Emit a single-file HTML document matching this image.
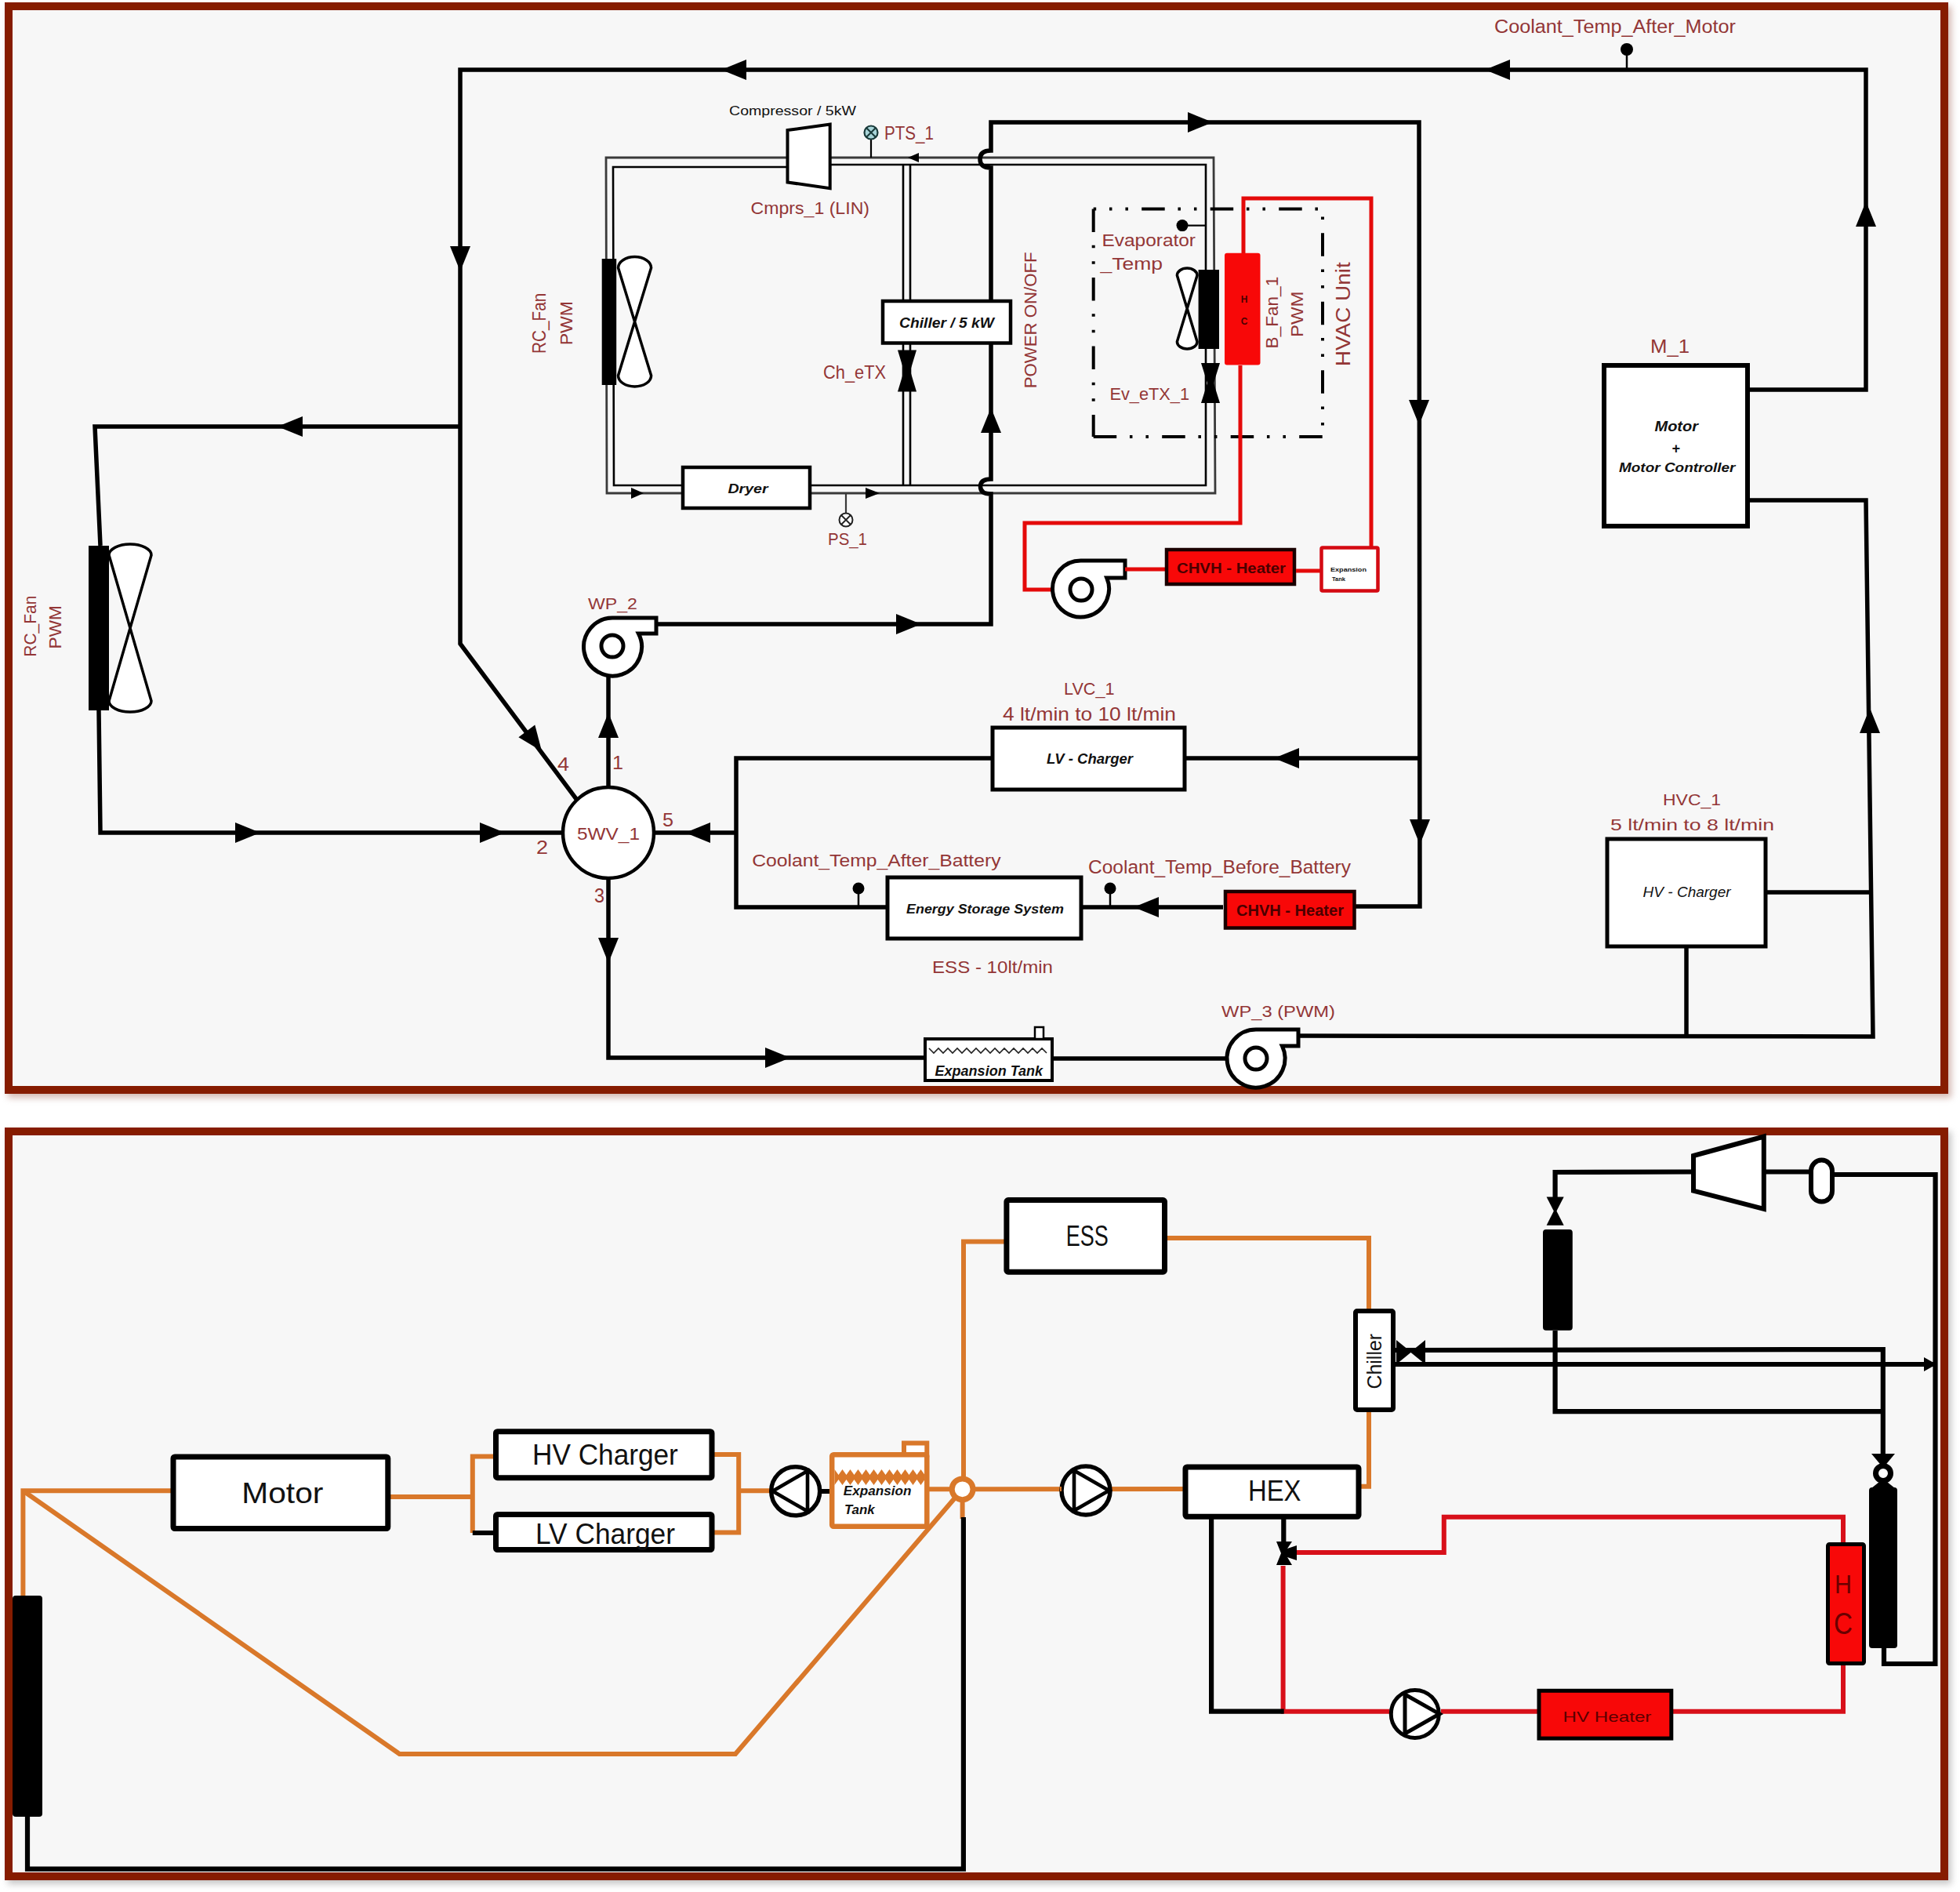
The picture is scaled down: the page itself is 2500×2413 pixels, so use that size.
<!DOCTYPE html>
<html><head><meta charset="utf-8"><style>
html,body{margin:0;padding:0;background:#fff;}
body{width:2500px;height:2413px;overflow:hidden;}
svg{display:block;}
</style></head><body>
<svg width="2500" height="2413" viewBox="0 0 2500 2413">
<defs><filter id="sh" x="-2%" y="-2%" width="104%" height="104%"><feGaussianBlur stdDeviation="4"/></filter></defs>
<rect x="10" y="8" width="2479" height="1392" fill="#B88A80" opacity="0.6" filter="url(#sh)"/>
<rect x="10" y="1443" width="2479" height="960" fill="#999" opacity="0.55" filter="url(#sh)"/>
<rect x="11" y="8" width="2469" height="1382" fill="#F7F7F7" stroke="#861C00" stroke-width="10"/>
<rect x="11" y="1443" width="2469" height="950" fill="#F7F7F7" stroke="#861C00" stroke-width="10"/>
<path d="M1004 201 L773 201 L774 629 L871 629" fill="none" stroke="#3a3a3a" stroke-width="2.8" stroke-linecap="butt" stroke-linejoin="miter" />
<path d="M1004 213 L782 213 L783 619 L871 619" fill="none" stroke="#000" stroke-width="2.6" stroke-linecap="butt" stroke-linejoin="miter" />
<path d="M1059 201 L1548 201 L1550 629 L1033 629" fill="none" stroke="#3a3a3a" stroke-width="2.8" stroke-linecap="butt" stroke-linejoin="miter" />
<path d="M1059 210 L1538 210 L1538 619 L1033 619" fill="none" stroke="#000" stroke-width="2.6" stroke-linecap="butt" stroke-linejoin="miter" />
<path d="M1152 210 L1152 619" fill="none" stroke="#000" stroke-width="2.6" stroke-linecap="butt" stroke-linejoin="miter" />
<path d="M1161 210 L1161 619" fill="none" stroke="#000" stroke-width="2.6" stroke-linecap="butt" stroke-linejoin="miter" />
<polygon points="821.0,629.0 805.0,636.0 805.0,622.0" fill="#000"/>
<polygon points="1158.0,201.0 1172.0,195.0 1172.0,207.0" fill="#000"/>
<polygon points="1122.0,629.0 1104.0,636.0 1104.0,622.0" fill="#000"/>
<polygon points="1004.5,166 1058.7,158.6 1058.7,240.3 1004.5,232.4" fill="#fff" stroke="#000" stroke-width="4" stroke-linejoin="miter"/>
<path d="M1111 178 L1111 201" fill="none" stroke="#000" stroke-width="2.2" stroke-linecap="butt" stroke-linejoin="miter" />
<circle cx="1111" cy="169" r="8.5" fill="#A8D4D8" stroke="#1a3a3a" stroke-width="2.2"/>
<path d="M1105 163 L1117 175 M1117 163 L1105 175" stroke="#1a3a3a" stroke-width="2"/>
<path d="M1079 629 L1079 654" fill="none" stroke="#3a3a3a" stroke-width="2.2" stroke-linecap="butt" stroke-linejoin="miter" />
<circle cx="1079" cy="663" r="8.5" fill="#fff" stroke="#222" stroke-width="2"/>
<path d="M1073 657 L1085 669 M1085 657 L1073 669" stroke="#222" stroke-width="1.8"/>
<rect x="767.7" y="330" width="18.5" height="161" fill="#000" rx="0"/>
<path d="M788.5 341.6 A21.05000000000001 14 0 0 1 830.6 341.6 L788.5 479 A21.05000000000001 14 0 0 0 830.6 479 Z" fill="#fff" stroke="#000" stroke-width="3.5" stroke-linejoin="round"/>
<polygon points="1145,446.4 1169,446.4 1161,473 1169,499.5 1145,499.5 1153,473" fill="#000"/>
<rect x="871" y="596" width="162" height="52" fill="#fff" stroke="#000" stroke-width="4.5" rx="0"/>
<path d="M1394.7 266.5 L1394.7 557" fill="none" stroke="#000" stroke-width="4" stroke-dasharray="29.5 16.75 3.5 17 3.5 17.25" stroke-dashoffset="0"/>
<path d="M1394.7 266.5 L1687 266.5" fill="none" stroke="#000" stroke-width="4" stroke-dasharray="29.5 16.75 3.5 17 3.5 17.25" stroke-dashoffset="26"/>
<path d="M1394.7 557 L1687 557" fill="none" stroke="#000" stroke-width="4" stroke-dasharray="29.5 16.75 3.5 17 3.5 17.25" stroke-dashoffset="0"/>
<path d="M1687 266.5 L1687 557" fill="none" stroke="#000" stroke-width="4" stroke-dasharray="29.5 16.75 3.5 17 3.5 17.25" stroke-dashoffset="56.7"/>
<path d="M1508 287.6 L1538 287.6" fill="none" stroke="#000" stroke-width="2.2" stroke-linecap="butt" stroke-linejoin="miter" />
<circle cx="1508" cy="287.6" r="7.5" fill="#000" stroke="#000" stroke-width="0"/>
<path d="M1501.4 351.27 A12.799999999999955 9.27 0 0 1 1527 351.27 L1501.4 435.73 A12.799999999999955 9.27 0 0 0 1527 435.73 Z" fill="#fff" stroke="#000" stroke-width="3.5" stroke-linejoin="round"/>
<rect x="1528.6" y="344" width="26.40000000000009" height="101" fill="#000" rx="0"/>
<polygon points="1532,463 1556,463 1548,488.5 1556,514 1532,514 1540,488.5" fill="#000"/>
<path d="M1586 323 L1586 253 L1749 253 L1749 697" fill="none" stroke="#E40A0A" stroke-width="5" stroke-linecap="butt" stroke-linejoin="miter" />
<path d="M1582 466 L1582 667 L1307 667 L1307 752 L1342 752" fill="none" stroke="#E40A0A" stroke-width="5" stroke-linecap="butt" stroke-linejoin="miter" />
<rect x="1562" y="322.7" width="45.5" height="142.8" rx="3" fill="#F80808"/>
<path d="M1379 715 L1435 715 L1435 737 L1411.7 737 A36 36 0 1 1 1379 715 Z" fill="#fff" stroke="#000" stroke-width="5" stroke-linejoin="miter"/>
<circle cx="1379" cy="752" r="14" fill="#fff" stroke="#000" stroke-width="5"/>
<path d="M1435 726 L1486 726" fill="none" stroke="#E40A0A" stroke-width="5" stroke-linecap="butt" stroke-linejoin="miter" />
<rect x="1488" y="701" width="163" height="44" fill="#F80808" stroke="#1a0000" stroke-width="4.5" rx="0"/>
<path d="M1653 728 L1684 728" fill="none" stroke="#E40A0A" stroke-width="5" stroke-linecap="butt" stroke-linejoin="miter" />
<rect x="1685.5" y="698.5" width="72.0" height="55.0" fill="#fff" stroke="#D40A12" stroke-width="4.5" rx="1.5"/>
<path d="M587 544 L587 89 L2380 89 L2380 497 L2229 497" fill="none" stroke="#000" stroke-width="5.5" stroke-linecap="butt" stroke-linejoin="miter" />
<polygon points="920.0,89.0 952.0,76.0 952.0,102.0" fill="#000"/>
<polygon points="1894.0,89.0 1926.0,76.0 1926.0,102.0" fill="#000"/>
<polygon points="587.0,346.0 574.0,314.0 600.0,314.0" fill="#000"/>
<polygon points="2380.0,257.0 2393.0,289.0 2367.0,289.0" fill="#000"/>
<path d="M587 544 L121 544 L128 696" fill="none" stroke="#000" stroke-width="5.5" stroke-linecap="butt" stroke-linejoin="miter" />
<polygon points="354.0,544.0 386.0,531.0 386.0,557.0" fill="#000"/>
<rect x="113" y="696" width="26" height="210" fill="#000" rx="0"/>
<path d="M139 708 A27.0 14 0 0 1 193 708 L139 894 A27.0 14 0 0 0 193 894 Z" fill="#fff" stroke="#000" stroke-width="3.5" stroke-linejoin="round"/>
<path d="M126 906 L128 1062 L718 1062" fill="none" stroke="#000" stroke-width="5.5" stroke-linecap="butt" stroke-linejoin="miter" />
<polygon points="332.0,1062.0 300.0,1075.0 300.0,1049.0" fill="#000"/>
<polygon points="644.0,1062.0 612.0,1075.0 612.0,1049.0" fill="#000"/>
<path d="M587 544 L587 821 L735 1019" fill="none" stroke="#000" stroke-width="5.5" stroke-linecap="butt" stroke-linejoin="miter" />
<polygon points="691.0,958.0 661.4,940.2 682.3,924.6" fill="#000"/>
<circle cx="776" cy="1062" r="58" fill="#fff" stroke="#000" stroke-width="4.5"/>
<path d="M776 1004 L776 860" fill="none" stroke="#000" stroke-width="5.5" stroke-linecap="butt" stroke-linejoin="miter" />
<polygon points="776.0,909.0 789.0,941.0 763.0,941.0" fill="#000"/>
<path d="M781 788 L837 788 L837 808 L814.4 808 A37 37 0 1 1 781 788 Z" fill="#fff" stroke="#000" stroke-width="5" stroke-linejoin="miter"/>
<circle cx="781" cy="824" r="14" fill="#fff" stroke="#000" stroke-width="5"/>
<path d="M837 796 L1264 796 L1264 635" fill="none" stroke="#000" stroke-width="5.5" stroke-linecap="butt" stroke-linejoin="miter" />
<polygon points="1175.0,796.0 1143.0,809.0 1143.0,783.0" fill="#000"/>
<polygon points="1264.0,520.0 1277.0,552.0 1251.0,552.0" fill="#000"/>
<path d="M1264 635 L1264 630 Q1250.5 630 1250.5 620.5 Q1250.5 611 1264 611 L1264 219 L1264 214 Q1250 214 1250 203 Q1250 192 1264 192 L1264 156 L1810 156 L1811 1156 L1729 1156" fill="none" stroke="#000" stroke-width="5.5"/>
<polygon points="1547.0,156.0 1515.0,169.0 1515.0,143.0" fill="#000"/>
<polygon points="1810.0,542.0 1797.0,510.0 1823.0,510.0" fill="#000"/>
<polygon points="1811.0,1077.0 1798.0,1045.0 1824.0,1045.0" fill="#000"/>
<path d="M1810 967 L1511 967" fill="none" stroke="#000" stroke-width="5.5" stroke-linecap="butt" stroke-linejoin="miter" />
<polygon points="1625.0,967.0 1657.0,954.0 1657.0,980.0" fill="#000"/>
<rect x="1266" y="928" width="245" height="79" fill="#fff" stroke="#000" stroke-width="5" rx="0"/>
<path d="M1266 967 L939 967 L939 1157 L1132 1157" fill="none" stroke="#000" stroke-width="5.5" stroke-linecap="butt" stroke-linejoin="miter" />
<path d="M939 1062 L835 1062" fill="none" stroke="#000" stroke-width="5.5" stroke-linecap="butt" stroke-linejoin="miter" />
<polygon points="874.0,1062.0 906.0,1049.0 906.0,1075.0" fill="#000"/>
<rect x="1132" y="1119" width="247" height="78" fill="#fff" stroke="#000" stroke-width="5" rx="0"/>
<path d="M1379 1157 L1560 1157" fill="none" stroke="#000" stroke-width="5.5" stroke-linecap="butt" stroke-linejoin="miter" />
<polygon points="1446.0,1157.0 1478.0,1144.0 1478.0,1170.0" fill="#000"/>
<path d="M1095 1133 L1095 1157" fill="none" stroke="#000" stroke-width="2.5" stroke-linecap="butt" stroke-linejoin="miter" />
<circle cx="1095" cy="1133" r="7.5" fill="#000" stroke="#000" stroke-width="0"/>
<path d="M1416 1133 L1416 1157" fill="none" stroke="#000" stroke-width="2.5" stroke-linecap="butt" stroke-linejoin="miter" />
<circle cx="1416" cy="1133" r="7.5" fill="#000" stroke="#000" stroke-width="0"/>
<rect x="1563" y="1137" width="164.5" height="46.5" fill="#F80808" stroke="#1a0000" stroke-width="4.5" rx="0"/>
<path d="M776 1121 L776 1349 L1180 1349" fill="none" stroke="#000" stroke-width="5.5" stroke-linecap="butt" stroke-linejoin="miter" />
<polygon points="776.0,1228.0 763.0,1196.0 789.0,1196.0" fill="#000"/>
<polygon points="1008.0,1349.0 976.0,1362.0 976.0,1336.0" fill="#000"/>
<rect x="1180" y="1325" width="162" height="53" fill="#fff" stroke="#000" stroke-width="4" rx="0"/>
<rect x="1320" y="1310" width="11" height="15" fill="#fff" stroke="#000" stroke-width="2.5" rx="0"/>
<path d="M1185 1337 L1191 1343 L1197 1337 L1203 1343 L1209 1337 L1215 1343 L1221 1337 L1227 1343 L1233 1337 L1239 1343 L1245 1337 L1251 1343 L1257 1337 L1263 1343 L1269 1337 L1275 1343 L1281 1337 L1287 1343 L1293 1337 L1299 1343 L1305 1337 L1311 1343 L1317 1337 L1323 1343 L1329 1337 L1335 1343" fill="none" stroke="#222" stroke-width="1.6" stroke-linecap="butt" stroke-linejoin="miter" />
<path d="M1342 1350 L1565 1350" fill="none" stroke="#000" stroke-width="5.5" stroke-linecap="butt" stroke-linejoin="miter" />
<path d="M1602 1313 L1656 1313 L1656 1334 L1635.4 1334 A37 37 0 1 1 1602 1313 Z" fill="#fff" stroke="#000" stroke-width="5" stroke-linejoin="miter"/>
<circle cx="1602" cy="1350" r="14" fill="#fff" stroke="#000" stroke-width="5"/>
<path d="M1656 1321 L2389 1322 L2380 638 L2229 638" fill="none" stroke="#000" stroke-width="5.5" stroke-linecap="butt" stroke-linejoin="miter" />
<polygon points="2385.0,903.0 2398.0,935.0 2372.0,935.0" fill="#000"/>
<rect x="2050" y="1070" width="202" height="137" fill="#fff" stroke="#000" stroke-width="5" rx="0"/>
<path d="M2252 1138 L2385 1138" fill="none" stroke="#000" stroke-width="5.5" stroke-linecap="butt" stroke-linejoin="miter" />
<path d="M2151 1207 L2151 1322" fill="none" stroke="#000" stroke-width="5.5" stroke-linecap="butt" stroke-linejoin="miter" />
<rect x="2046" y="466" width="183" height="205" fill="#fff" stroke="#000" stroke-width="6" rx="0"/>
<path d="M2075 63 L2075 89" fill="none" stroke="#000" stroke-width="2.5" stroke-linecap="butt" stroke-linejoin="miter" />
<circle cx="2075" cy="63" r="8" fill="#000" stroke="#000" stroke-width="0"/>
<rect x="1126" y="384" width="163" height="53.5" fill="#fff" stroke="#000" stroke-width="4.5" rx="0"/>
<text x="930.0" y="146.6" font-family="'Liberation Sans', sans-serif" font-size="15.99" fill="#111" text-anchor="start" font-weight="normal" font-style="normal" textLength="162.0" lengthAdjust="spacingAndGlyphs" >Compressor / 5kW</text>
<text x="1128.0" y="178" font-family="'Liberation Sans', sans-serif" font-size="23.26" fill="#933636" text-anchor="start" font-weight="normal" font-style="normal" textLength="63.0" lengthAdjust="spacingAndGlyphs" >PTS_1</text>
<text x="957.6" y="273.4" font-family="'Liberation Sans', sans-serif" font-size="21.37" fill="#933636" text-anchor="start" font-weight="normal" font-style="normal" textLength="151.4" lengthAdjust="spacingAndGlyphs" >Cmprs_1 (LIN)</text>
<text x="696.5" y="450.9" font-family="'Liberation Sans', sans-serif" font-size="23.11" fill="#933636" text-anchor="start" font-weight="normal" font-style="normal" textLength="77.1" lengthAdjust="spacingAndGlyphs" transform="rotate(-90 696.5 450.9)" >RC_Fan</text>
<text x="730" y="440.3" font-family="'Liberation Sans', sans-serif" font-size="21.8" fill="#933636" text-anchor="start" font-weight="normal" font-style="normal" textLength="56.3" lengthAdjust="spacingAndGlyphs" transform="rotate(-90 730 440.3)" >PWM</text>
<text x="1147.0" y="418" font-family="'Liberation Sans', sans-serif" font-size="17.44" fill="#111" text-anchor="start" font-weight="bold" font-style="italic" textLength="121.0" lengthAdjust="spacingAndGlyphs" >Chiller / 5 kW</text>
<text x="1050.0" y="482.9" font-family="'Liberation Sans', sans-serif" font-size="23.11" fill="#933636" text-anchor="start" font-weight="normal" font-style="normal" textLength="80.0" lengthAdjust="spacingAndGlyphs" >Ch_eTX</text>
<text x="928.5" y="628.5" font-family="'Liberation Sans', sans-serif" font-size="16.72" fill="#111" text-anchor="start" font-weight="bold" font-style="italic" textLength="51.1" lengthAdjust="spacingAndGlyphs" >Dryer</text>
<text x="1056.0" y="695.4" font-family="'Liberation Sans', sans-serif" font-size="21.22" fill="#933636" text-anchor="start" font-weight="normal" font-style="normal" textLength="50.0" lengthAdjust="spacingAndGlyphs" >PS_1</text>
<text x="750.0" y="777" font-family="'Liberation Sans', sans-serif" font-size="20.93" fill="#933636" text-anchor="start" font-weight="normal" font-style="normal" textLength="63.0" lengthAdjust="spacingAndGlyphs" >WP_2</text>
<text x="1322" y="495.2" font-family="'Liberation Sans', sans-serif" font-size="22.38" fill="#933636" text-anchor="start" font-weight="normal" font-style="normal" textLength="173.7" lengthAdjust="spacingAndGlyphs" transform="rotate(-90 1322 495.2)" >POWER ON/OFF</text>
<text x="1405.5" y="313.5" font-family="'Liberation Sans', sans-serif" font-size="22.53" fill="#933636" text-anchor="start" font-weight="normal" font-style="normal" textLength="119.5" lengthAdjust="spacingAndGlyphs" >Evaporator</text>
<text x="1403.5" y="344" font-family="'Liberation Sans', sans-serif" font-size="22.09" fill="#933636" text-anchor="start" font-weight="normal" font-style="normal" textLength="79.5" lengthAdjust="spacingAndGlyphs" >_Temp</text>
<text x="1629.6" y="444.4" font-family="'Liberation Sans', sans-serif" font-size="22.09" fill="#933636" text-anchor="start" font-weight="normal" font-style="normal" textLength="91.6" lengthAdjust="spacingAndGlyphs" transform="rotate(-90 1629.6 444.4)" >B_Fan_1</text>
<text x="1661.7" y="430.0" font-family="'Liberation Sans', sans-serif" font-size="21.37" fill="#933636" text-anchor="start" font-weight="normal" font-style="normal" textLength="58.6" lengthAdjust="spacingAndGlyphs" transform="rotate(-90 1661.7 430.0)" >PWM</text>
<text x="1722" y="467.2" font-family="'Liberation Sans', sans-serif" font-size="26.16" fill="#933636" text-anchor="start" font-weight="normal" font-style="normal" textLength="133.0" lengthAdjust="spacingAndGlyphs" transform="rotate(-90 1722 467.2)" >HVAC Unit</text>
<text x="1415.4" y="510" font-family="'Liberation Sans', sans-serif" font-size="22.82" fill="#933636" text-anchor="start" font-weight="normal" font-style="normal" textLength="101.6" lengthAdjust="spacingAndGlyphs" >Ev_eTX_1</text>
<text x="1501.0" y="730.7" font-family="'Liberation Sans', sans-serif" font-size="18.46" fill="#4a0000" text-anchor="start" font-weight="bold" font-style="normal" textLength="139.0" lengthAdjust="spacingAndGlyphs" >CHVH - Heater</text>
<text x="1357.0" y="886.1" font-family="'Liberation Sans', sans-serif" font-size="22.24" fill="#933636" text-anchor="start" font-weight="normal" font-style="normal" textLength="64.5" lengthAdjust="spacingAndGlyphs" >LVC_1</text>
<text x="1279.0" y="919.3" font-family="'Liberation Sans', sans-serif" font-size="24.13" fill="#933636" text-anchor="start" font-weight="normal" font-style="normal" textLength="221.0" lengthAdjust="spacingAndGlyphs" >4 lt/min to 10 lt/min</text>
<text x="1335.0" y="973.5" font-family="'Liberation Sans', sans-serif" font-size="17.59" fill="#111" text-anchor="start" font-weight="bold" font-style="italic" textLength="110.0" lengthAdjust="spacingAndGlyphs" >LV - Charger</text>
<text x="959.2" y="1104.9" font-family="'Liberation Sans', sans-serif" font-size="22.82" fill="#933636" text-anchor="start" font-weight="normal" font-style="normal" textLength="317.3" lengthAdjust="spacingAndGlyphs" >Coolant_Temp_After_Battery</text>
<text x="1388.0" y="1113.8" font-family="'Liberation Sans', sans-serif" font-size="23.26" fill="#933636" text-anchor="start" font-weight="normal" font-style="normal" textLength="335.0" lengthAdjust="spacingAndGlyphs" >Coolant_Temp_Before_Battery</text>
<text x="1156.0" y="1165.3" font-family="'Liberation Sans', sans-serif" font-size="15.7" fill="#111" text-anchor="start" font-weight="bold" font-style="italic" textLength="201.0" lengthAdjust="spacingAndGlyphs" >Energy Storage System</text>
<text x="1577.0" y="1168" font-family="'Liberation Sans', sans-serif" font-size="20.93" fill="#4a0000" text-anchor="start" font-weight="bold" font-style="normal" textLength="137.0" lengthAdjust="spacingAndGlyphs" >CHVH - Heater</text>
<text x="1189.0" y="1240.7" font-family="'Liberation Sans', sans-serif" font-size="22.82" fill="#933636" text-anchor="start" font-weight="normal" font-style="normal" textLength="154.0" lengthAdjust="spacingAndGlyphs" >ESS - 10lt/min</text>
<text x="1192.6" y="1372" font-family="'Liberation Sans', sans-serif" font-size="18.9" fill="#111" text-anchor="start" font-weight="bold" font-style="italic" textLength="137.4" lengthAdjust="spacingAndGlyphs" >Expansion Tank</text>
<text x="1558.0" y="1297" font-family="'Liberation Sans', sans-serif" font-size="20.64" fill="#933636" text-anchor="start" font-weight="normal" font-style="normal" textLength="145.0" lengthAdjust="spacingAndGlyphs" >WP_3 (PWM)</text>
<text x="1906.0" y="42.4" font-family="'Liberation Sans', sans-serif" font-size="23.98" fill="#933636" text-anchor="start" font-weight="normal" font-style="normal" textLength="308.0" lengthAdjust="spacingAndGlyphs" >Coolant_Temp_After_Motor</text>
<text x="2105.0" y="449.6" font-family="'Liberation Sans', sans-serif" font-size="24.13" fill="#933636" text-anchor="start" font-weight="normal" font-style="normal" textLength="50.0" lengthAdjust="spacingAndGlyphs" >M_1</text>
<text x="2110.5" y="550" font-family="'Liberation Sans', sans-serif" font-size="17.44" fill="#111" text-anchor="start" font-weight="bold" font-style="italic" textLength="55.5" lengthAdjust="spacingAndGlyphs" >Motor</text>
<text x="2137.6" y="578" font-family="'Liberation Sans', sans-serif" font-size="18" fill="#111" text-anchor="middle" font-weight="bold" font-style="italic" >+</text>
<text x="2065.0" y="602" font-family="'Liberation Sans', sans-serif" font-size="16.86" fill="#111" text-anchor="start" font-weight="bold" font-style="italic" textLength="148.5" lengthAdjust="spacingAndGlyphs" >Motor Controller</text>
<text x="2121.0" y="1027.3" font-family="'Liberation Sans', sans-serif" font-size="20.78" fill="#933636" text-anchor="start" font-weight="normal" font-style="normal" textLength="74.0" lengthAdjust="spacingAndGlyphs" >HVC_1</text>
<text x="2054.0" y="1059" font-family="'Liberation Sans', sans-serif" font-size="20.64" fill="#933636" text-anchor="start" font-weight="normal" font-style="normal" textLength="209.0" lengthAdjust="spacingAndGlyphs" >5 lt/min to 8 lt/min</text>
<text x="2095.6" y="1143.7" font-family="'Liberation Sans', sans-serif" font-size="18.46" fill="#111" text-anchor="start" font-weight="normal" font-style="italic" textLength="112.0" lengthAdjust="spacingAndGlyphs" >HV - Charger</text>
<text x="736.0" y="1071.3" font-family="'Liberation Sans', sans-serif" font-size="22.82" fill="#933636" text-anchor="start" font-weight="normal" font-style="normal" textLength="80.0" lengthAdjust="spacingAndGlyphs" >5WV_1</text>
<text x="711.0" y="983" font-family="'Liberation Sans', sans-serif" font-size="23.26" fill="#933636" text-anchor="start" font-weight="normal" font-style="normal" textLength="15.0" lengthAdjust="spacingAndGlyphs" >4</text>
<text x="781.0" y="981" font-family="'Liberation Sans', sans-serif" font-size="24.71" fill="#933636" text-anchor="start" font-weight="normal" font-style="normal" textLength="14.0" lengthAdjust="spacingAndGlyphs" >1</text>
<text x="845.0" y="1054" font-family="'Liberation Sans', sans-serif" font-size="24.71" fill="#933636" text-anchor="start" font-weight="normal" font-style="normal" textLength="14.0" lengthAdjust="spacingAndGlyphs" >5</text>
<text x="684.0" y="1089" font-family="'Liberation Sans', sans-serif" font-size="23.26" fill="#933636" text-anchor="start" font-weight="normal" font-style="normal" textLength="15.0" lengthAdjust="spacingAndGlyphs" >2</text>
<text x="758.0" y="1151" font-family="'Liberation Sans', sans-serif" font-size="26.16" fill="#933636" text-anchor="start" font-weight="normal" font-style="normal" textLength="13.0" lengthAdjust="spacingAndGlyphs" >3</text>
<text x="46.4" y="837.7" font-family="'Liberation Sans', sans-serif" font-size="22.24" fill="#933636" text-anchor="start" font-weight="normal" font-style="normal" textLength="78.1" lengthAdjust="spacingAndGlyphs" transform="rotate(-90 46.4 837.7)" >RC_Fan</text>
<text x="78.1" y="827.4" font-family="'Liberation Sans', sans-serif" font-size="22.97" fill="#933636" text-anchor="start" font-weight="normal" font-style="normal" textLength="55.4" lengthAdjust="spacingAndGlyphs" transform="rotate(-90 78.1 827.4)" >PWM</text>
<path d="M221 1901.3 L29.4 1901.3 L29.4 2036" fill="none" stroke="#D9782A" stroke-width="6" stroke-linecap="butt" stroke-linejoin="miter" />
<path d="M29.4 1901.3 L509.6 2237 L938 2237 L1227.6 1899.3" fill="none" stroke="#D9782A" stroke-width="6" stroke-linecap="butt" stroke-linejoin="miter" />
<path d="M494.8 1909 L602.8 1909" fill="none" stroke="#D9782A" stroke-width="6" stroke-linecap="butt" stroke-linejoin="miter" />
<path d="M632.5 1857.5 L602.8 1857.5 L602.8 1955" fill="none" stroke="#D9782A" stroke-width="6" stroke-linecap="butt" stroke-linejoin="miter" />
<path d="M602.8 1955 L632.5 1955" fill="none" stroke="#000" stroke-width="6" stroke-linecap="butt" stroke-linejoin="miter" />
<path d="M908 1855 L942.2 1855 L942.2 1954.4 L908 1954.4" fill="none" stroke="#D9782A" stroke-width="6" stroke-linecap="butt" stroke-linejoin="miter" />
<path d="M942.2 1901.3 L982 1901.3" fill="none" stroke="#D9782A" stroke-width="6" stroke-linecap="butt" stroke-linejoin="miter" />
<path d="M1048 1902 L1061 1902" fill="none" stroke="#000" stroke-width="6" stroke-linecap="butt" stroke-linejoin="miter" />
<path d="M1182 1899.3 L1510 1899" fill="none" stroke="#D9782A" stroke-width="6" stroke-linecap="butt" stroke-linejoin="miter" />
<path d="M1229 1899.3 L1229 1583.5 L1283.9 1583.5" fill="none" stroke="#D9782A" stroke-width="6" stroke-linecap="butt" stroke-linejoin="miter" />
<path d="M1485.5 1578.9 L1746 1578.9 L1746 1672" fill="none" stroke="#D9782A" stroke-width="6" stroke-linecap="butt" stroke-linejoin="miter" />
<path d="M1746 1798 L1746 1895.8 L1733 1895.8" fill="none" stroke="#D9782A" stroke-width="6" stroke-linecap="butt" stroke-linejoin="miter" />
<path d="M1227.6 1937 L1227.6 1912" fill="none" stroke="#D9782A" stroke-width="6" stroke-linecap="butt" stroke-linejoin="miter" />
<path d="M35 2317 L35 2383.7 L1228.9 2383.7 L1228.9 1935" fill="none" stroke="#000" stroke-width="6.2" stroke-linecap="butt" stroke-linejoin="miter" />
<rect x="16" y="2035" width="38" height="282" fill="#000" rx="4"/>
<rect x="221" y="1858" width="273.8" height="91.59999999999991" fill="#fff" stroke="#000" stroke-width="7" rx="2"/>
<rect x="632.5" y="1825.7" width="275.5" height="59.0" fill="#fff" stroke="#000" stroke-width="7" rx="2"/>
<rect x="632.5" y="1931.4" width="275.5" height="45.19999999999982" fill="#fff" stroke="#000" stroke-width="7" rx="2"/>
<circle cx="1014.7" cy="1901.8" r="31" fill="#fff" stroke="#000" stroke-width="5.5"/>
<polygon points="985.5,1901.8 1030,1876 1030,1927.5" fill="none" stroke="#000" stroke-width="4.6" stroke-linejoin="miter"/>
<rect x="1153" y="1840.5" width="29.299999999999955" height="14.799999999999955" fill="#fff" stroke="#D9782A" stroke-width="6" rx="0"/>
<rect x="1061.2" y="1855.3" width="121.09999999999991" height="91.40000000000009" fill="#fff" stroke="#D9782A" stroke-width="6.5" rx="2"/>
<path d="M1064.5 1874 L1069.5 1881 L1074.5 1874 L1079.5 1881 L1084.5 1874 L1089.5 1881 L1094.5 1874 L1099.5 1881 L1104.5 1874 L1109.5 1881 L1114.5 1874 L1119.5 1881 L1124.5 1874 L1129.5 1881 L1134.5 1874 L1139.5 1881 L1144.5 1874 L1149.5 1881 L1154.5 1874 L1159.5 1881 L1164.5 1874 L1169.5 1881 L1174.5 1874 L1179.5 1881 L1179.5 1887 L1174.5 1894 L1169.5 1887 L1164.5 1894 L1159.5 1887 L1154.5 1894 L1149.5 1887 L1144.5 1894 L1139.5 1887 L1134.5 1894 L1129.5 1887 L1124.5 1894 L1119.5 1887 L1114.5 1894 L1109.5 1887 L1104.5 1894 L1099.5 1887 L1094.5 1894 L1089.5 1887 L1084.5 1894 L1079.5 1887 L1074.5 1894 L1069.5 1887 L1064.5 1894 Z" fill="#D9782A"/>
<circle cx="1227.6" cy="1899.3" r="13.4" fill="#fff" stroke="#D9782A" stroke-width="7"/>
<rect x="1283.9" y="1530.6" width="201.5999999999999" height="91.60000000000014" fill="#fff" stroke="#000" stroke-width="7" rx="2"/>
<circle cx="1385" cy="1901" r="31" fill="#fff" stroke="#000" stroke-width="5.5"/>
<polygon points="1414.5,1901 1370,1875.5 1370,1926.5" fill="none" stroke="#000" stroke-width="4.6" stroke-linejoin="miter"/>
<path d="M1352 1899 L1354 1899" fill="none" stroke="#D9782A" stroke-width="6" stroke-linecap="butt" stroke-linejoin="miter" />
<rect x="1512" y="1871" width="221" height="63.299999999999955" fill="#fff" stroke="#000" stroke-width="7" rx="2"/>
<rect x="1729" y="1672" width="48" height="126" fill="#fff" stroke="#000" stroke-width="6" rx="2"/>
<path d="M1780 1722 L2401.8 1721 L2401.8 1855" fill="none" stroke="#000" stroke-width="6.2" stroke-linecap="butt" stroke-linejoin="miter" />
<path d="M1780 1740 L2468.4 1740" fill="none" stroke="#000" stroke-width="6.2" stroke-linecap="butt" stroke-linejoin="miter" />
<polygon points="2470.0,1740.0 2454.0,1749.0 2454.0,1731.0" fill="#000"/>
<path d="M1983.6 1697 L1983.6 1800.2 L2401.8 1800.2" fill="none" stroke="#000" stroke-width="6.2" stroke-linecap="butt" stroke-linejoin="miter" />
<path d="M1983.6 1527 L1983.6 1495 L2160 1494.5" fill="none" stroke="#000" stroke-width="6.2" stroke-linecap="butt" stroke-linejoin="miter" />
<path d="M2250 1494.5 L2310 1494.5" fill="none" stroke="#000" stroke-width="6.2" stroke-linecap="butt" stroke-linejoin="miter" />
<path d="M2337 1498 L2468.6 1498 L2468.4 2122 L2403 2122 L2403 2102" fill="none" stroke="#000" stroke-width="6.2" stroke-linecap="butt" stroke-linejoin="miter" />
<polygon points="1781,1709 1781,1740 1800,1724.5" fill="#000"/><polygon points="1818,1709 1818,1740 1799,1724.5" fill="#000"/>
<polygon points="1972.6,1526.6 1994.7,1526.6 1983.6,1548" fill="#000"/><polygon points="1983.6,1541 1994.7,1562.8 1972.6,1562.8" fill="#000"/>
<rect x="1968" y="1568" width="37.799999999999955" height="128.70000000000005" fill="#000" rx="4"/>
<polygon points="2160,1474 2249.8,1449.5 2249.8,1541.8 2160,1518.6" fill="#fff" stroke="#000" stroke-width="6" stroke-linejoin="miter"/>
<rect x="2310" y="1479.6" width="27" height="53" rx="13.5" fill="#fff" stroke="#000" stroke-width="6"/>
<polygon points="2387,1854 2417,1854 2402,1872" fill="#000"/><polygon points="2402,1886 2417,1898 2387,1898" fill="#000"/>
<circle cx="2402" cy="1879" r="9.5" fill="#fff" stroke="#000" stroke-width="7"/>
<rect x="2384" y="1897" width="36" height="205" fill="#000" rx="4"/>
<path d="M1654 1980 L1841.8 1980 L1841.8 1934.7 L2351 1934.7 L2351 1967" fill="none" stroke="#D8101A" stroke-width="6" stroke-linecap="butt" stroke-linejoin="miter" />
<path d="M1636.6 1997 L1636.6 2182.7 L1772 2182.7" fill="none" stroke="#D8101A" stroke-width="6" stroke-linecap="butt" stroke-linejoin="miter" />
<path d="M1838 2182.7 L1961 2182.7" fill="none" stroke="#D8101A" stroke-width="6" stroke-linecap="butt" stroke-linejoin="miter" />
<path d="M2134 2182.7 L2351 2182.7 L2351 2122" fill="none" stroke="#D8101A" stroke-width="6" stroke-linecap="butt" stroke-linejoin="miter" />
<path d="M1545.1 1934 L1545.1 2182.7 L1637.7 2182.7" fill="none" stroke="#000" stroke-width="6.2" stroke-linecap="butt" stroke-linejoin="miter" />
<path d="M1637.3 1934 L1637.3 1966" fill="none" stroke="#000" stroke-width="6.2" stroke-linecap="butt" stroke-linejoin="miter" />
<path d="M1628 1966 L1648 1966 L1642 1975 L1654 1971 L1654 1990 L1642 1986 L1648 1996 L1628 1996 L1634 1981 Z" fill="#000"/>
<circle cx="1804.8" cy="2185.9" r="30.5" fill="#fff" stroke="#000" stroke-width="5"/>
<polygon points="1836,2185.9 1792,2161 1792,2211" fill="none" stroke="#000" stroke-width="5" stroke-linejoin="miter"/>
<rect x="1963" y="2156.3" width="168.80000000000018" height="60.79999999999973" fill="#F80808" stroke="#000" stroke-width="5" rx="0"/>
<rect x="2331.5" y="1969.5" width="46.0" height="152.0" fill="#F80808" stroke="#000" stroke-width="5" rx="2"/>
<text x="308.3" y="1916.6" font-family="'Liberation Sans', sans-serif" font-size="37.21" fill="#111" text-anchor="start" font-weight="normal" font-style="normal" textLength="104.1" lengthAdjust="spacingAndGlyphs" >Motor</text>
<text x="679.0" y="1868" font-family="'Liberation Sans', sans-serif" font-size="36.34" fill="#111" text-anchor="start" font-weight="normal" font-style="normal" textLength="185.8" lengthAdjust="spacingAndGlyphs" >HV Charger</text>
<text x="683.0" y="1969.4" font-family="'Liberation Sans', sans-serif" font-size="36.05" fill="#111" text-anchor="start" font-weight="normal" font-style="normal" textLength="178.0" lengthAdjust="spacingAndGlyphs" >LV Charger</text>
<text x="1075.8" y="1906.8" font-family="'Liberation Sans', sans-serif" font-size="15.7" fill="#111" text-anchor="start" font-weight="bold" font-style="italic" textLength="86.6" lengthAdjust="spacingAndGlyphs" >Expansion</text>
<text x="1076.9" y="1931.4" font-family="'Liberation Sans', sans-serif" font-size="16.28" fill="#111" text-anchor="start" font-weight="bold" font-style="italic" textLength="38.9" lengthAdjust="spacingAndGlyphs" >Tank</text>
<text x="1359.8" y="1588.8" font-family="'Liberation Sans', sans-serif" font-size="37.79" fill="#111" text-anchor="start" font-weight="normal" font-style="normal" textLength="54.0" lengthAdjust="spacingAndGlyphs" >ESS</text>
<text x="1591.9" y="1914.4" font-family="'Liberation Sans', sans-serif" font-size="37.65" fill="#111" text-anchor="start" font-weight="normal" font-style="normal" textLength="67.6" lengthAdjust="spacingAndGlyphs" >HEX</text>
<text x="1762.2" y="1771.4" font-family="'Liberation Sans', sans-serif" font-size="25.15" fill="#111" text-anchor="start" font-weight="normal" font-style="normal" textLength="70.4" lengthAdjust="spacingAndGlyphs" transform="rotate(-90 1762.2 1771.4)" >Chiller</text>
<text x="1993.5" y="2195.5" font-family="'Liberation Sans', sans-serif" font-size="18.6" fill="#5a0000" text-anchor="start" font-weight="normal" font-style="normal" textLength="112.9" lengthAdjust="spacingAndGlyphs" >HV Heater</text>
<text x="2340.0" y="2032" font-family="'Liberation Sans', sans-serif" font-size="33.43" fill="#6a0000" text-anchor="start" font-weight="normal" font-style="normal" textLength="22.0" lengthAdjust="spacingAndGlyphs" >H</text>
<text x="2339.0" y="2084" font-family="'Liberation Sans', sans-serif" font-size="39.24" fill="#6a0000" text-anchor="start" font-weight="normal" font-style="normal" textLength="24.0" lengthAdjust="spacingAndGlyphs" >C</text>
<text x="1587" y="386" font-family="'Liberation Sans', sans-serif" font-size="12" fill="#4a0000" text-anchor="middle" font-weight="bold" font-style="normal" >H</text>
<text x="1587" y="414" font-family="'Liberation Sans', sans-serif" font-size="12" fill="#4a0000" text-anchor="middle" font-weight="bold" font-style="normal" >C</text>
<text x="1697" y="729" font-family="'Liberation Sans', sans-serif" font-size="7.5" fill="#111" text-anchor="start" font-weight="bold" font-style="normal" textLength="46" lengthAdjust="spacingAndGlyphs" >Expansion</text>
<text x="1699" y="741" font-family="'Liberation Sans', sans-serif" font-size="7.5" fill="#111" text-anchor="start" font-weight="bold" font-style="normal" textLength="17" lengthAdjust="spacingAndGlyphs" >Tank</text>
</svg></body></html>
